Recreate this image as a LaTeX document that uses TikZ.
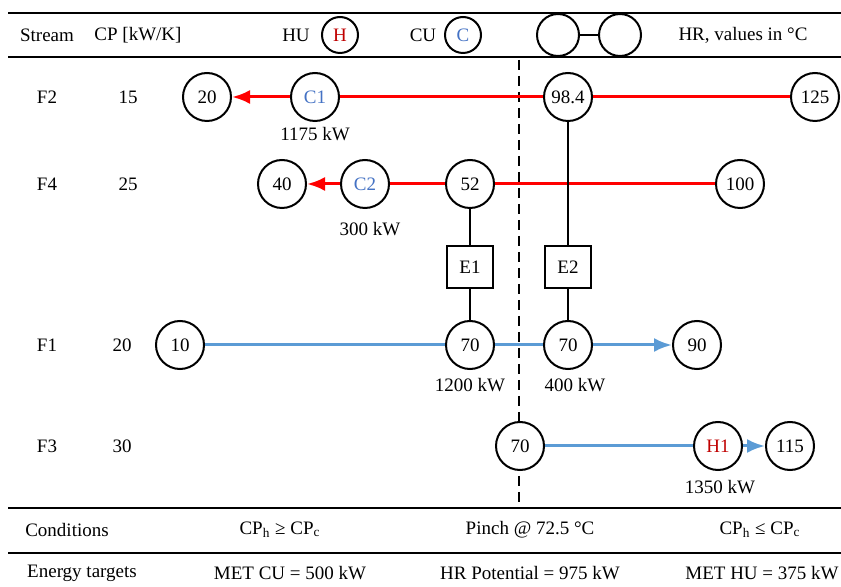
\documentclass[tikz,border=0pt]{standalone}
\usepackage{fontspec}
\setmainfont{Liberation Serif}
\usepackage{tikz}
\usetikzlibrary{arrows.meta}
\definecolor{hotred}{RGB}{255,0,0}
\definecolor{coldblue}{RGB}{91,155,213}
\definecolor{cutext}{RGB}{68,114,196}
\definecolor{hutext}{RGB}{192,0,0}
\begin{document}
\begin{tikzpicture}[x=0.5pt,y=-0.5pt,font=\fontsize{9.5}{11.5}\selectfont,
  temp/.style={draw,circle,line width=1pt,minimum size=24pt,inner sep=0pt,fill=white},
  hxbox/.style={draw,line width=0.8pt,minimum width=23pt,minimum height=21pt,inner sep=0pt,fill=white},
  hot/.style={hotred,line width=1.5pt},
  cold/.style={coldblue,line width=1.5pt},
  tip/.style={-{Latex[length=9pt,width=7pt]}},
  rule/.style={line width=1pt}]
\useasboundingbox (0,0) rectangle (841,587);

\draw[rule] (8,13)--(841,13);
\draw[rule] (8,57)--(841,57);
\draw[rule] (8,508)--(841,508);
\draw[rule] (8,553)--(841,553);

\node (hStream) at (47,35) {Stream};
\node (hCP) at (138,35) {CP [kW/K]};
\node (hHU) at (296,35) {HU};
\node[temp,minimum size=18pt,text=hutext] (hH) at (340,35) {H};
\node (hCU) at (423,35) {CU};
\node[temp,minimum size=18pt,text=cutext] (hC) at (463,35) {C};
\node[temp,minimum size=21pt] (hA) at (558,35) {};
\node[temp,minimum size=21pt] (hB) at (620,35) {};
\draw[line width=1pt] (hA)--(hB);
\node (hHR) at (743,35) {HR, values in °C};

\draw[line width=1pt,dash pattern=on 5pt off 3pt] (519,60)--(519,505);

\node (sF2) at (47,97) {F2};
\node (cF2) at (128,97) {15};
\node (sF4) at (47,184) {F4};
\node (cF4) at (128,184) {25};
\node (sF1) at (47,345) {F1};
\node (cF1) at (122,345) {20};
\node (sF3) at (47,446) {F3};
\node (cF3) at (122,446) {30};

\node[temp] (a20) at (207,97) {20};
\node[temp,text=cutext] (c1) at (315,97) {C1};
\node[temp] (a98) at (568,97) {98.4};
\node[temp] (a125) at (815,97) {125};
\node (q1175) at (315,134) {1175 kW};

\node[temp] (b40) at (282,184) {40};
\node[temp,text=cutext] (c2) at (365,184) {C2};
\node[temp] (b52) at (470,184) {52};
\node[temp] (b100) at (740,184) {100};
\node (q300) at (370,229) {300 kW};

\node[hxbox] (e1) at (470,267) {E1};
\node[hxbox] (e2) at (568,267) {E2};

\node[temp] (d10) at (180,345) {10};
\node[temp] (d70a) at (470,345) {70};
\node[temp] (d70b) at (568,345) {70};
\node[temp] (d90) at (697,345) {90};
\node (q1200) at (470,385) {1200 kW};
\node (q400) at (575,385) {400 kW};

\node[temp] (g70) at (520,446) {70};
\node[temp,text=hutext] (h1) at (718,446) {H1};
\node[temp] (g115) at (790,446) {115};
\node (q1350) at (720,487) {1350 kW};

\draw[hot] (a125)--(a98);
\draw[hot] (a98)--(c1);
\draw[hot,tip] (c1)--(a20);
\draw[hot] (b100)--(b52);
\draw[hot] (b52)--(c2);
\draw[hot,tip] (c2)--(b40);

\draw[cold] (d10)--(d70a);
\draw[cold] (d70a)--(d70b);
\draw[cold,tip] (d70b)--(d90);
\draw[cold] (g70)--(h1);
\draw[cold,tip] (h1)--(g115);

\draw[line width=0.8pt] (b52)--(e1)--(d70a);
\draw[line width=0.8pt] (a98)--(e2)--(d70b);

\node (rCond) at (67,530) {Conditions};
\node (rLeft) at (280,530) {CP\textsubscript{h} ≥ CP\textsubscript{c}};
\node (rPinch) at (530,530) {Pinch @ 72.5 °C};
\node (rRight) at (760,530) {CP\textsubscript{h} ≤ CP\textsubscript{c}};
\node (rTarg) at (82,573) {Energy targets};
\node (rCU) at (290,573) {MET CU = 500 kW};
\node (rHR) at (530,573) {HR Potential = 975 kW};
\node (rHU) at (762,573) {MET HU = 375 kW};
\end{tikzpicture}
\end{document}
